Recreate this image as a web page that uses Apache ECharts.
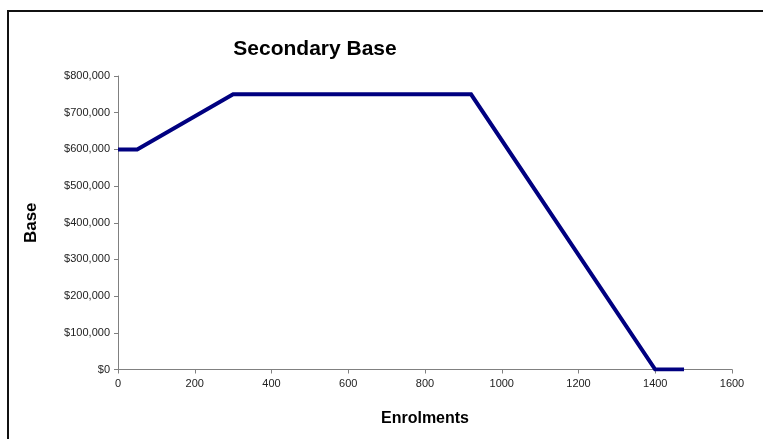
<!DOCTYPE html>
<html>
<head>
<meta charset="utf-8">
<script src="https://cdn.jsdelivr.net/npm/echarts@6/dist/echarts.min.js"></script>
<style>
  html, body { margin: 0; padding: 0; background: #fff; }
  #chart { width: 763px; height: 439px; }
</style>
</head>
<body>
<div id="chart"></div>
<script>
// Enrolment breakpoints and the base amount at each one
const enrolments = [0, 50, 300, 920, 1400, 1475];
const baseValues = [600000, 600000, 750000, 750000, 0, 0];

const xTicks = { min: 0, max: 1600, step: 200 };
const yTicks = { min: 0, max: 800000, step: 100000 };

const points = enrolments.map((x, i) => [x, baseValues[i]]);

const chart = echarts.init(document.getElementById('chart'), null, { renderer: 'canvas' });

const axisFont = 'Arial, "Liberation Sans", sans-serif';

chart.setOption({
  animation: false,
  backgroundColor: '#ffffff',
  title: {
    text: 'Secondary Base',
    left: 310,
    top: 34,
    textAlign: 'center',
    textStyle: { fontFamily: axisFont, fontSize: 21, fontWeight: 'bold', color: '#000' }
  },
  grid: { left: 118, right: 31, top: 76, bottom: 69.5, containLabel: false },
  xAxis: {
    type: 'value',
    min: xTicks.min,
    max: xTicks.max,
    interval: xTicks.step,
    name: 'Enrolments',
    nameLocation: 'middle',
    nameGap: 41,
    nameTextStyle: { fontFamily: axisFont, fontSize: 16, fontWeight: 'bold', color: '#000' },
    axisLine: { show: true, lineStyle: { color: '#808080', width: 1 } },
    axisTick: { show: true, length: 4, lineStyle: { color: '#808080' } },
    axisLabel: { fontFamily: axisFont, fontSize: 11, color: '#222', margin: 9, formatter: v => String(v) },
    splitLine: { show: false }
  },
  yAxis: {
    type: 'value',
    min: yTicks.min,
    max: yTicks.max,
    interval: yTicks.step,
    name: 'Base',
    nameLocation: 'middle',
    nameGap: 78,
    nameRotate: 90,
    nameTextStyle: { fontFamily: axisFont, fontSize: 17, fontWeight: 'bold', color: '#000' },
    axisLine: { show: true, lineStyle: { color: '#808080', width: 1 } },
    axisTick: { show: true, length: 4, lineStyle: { color: '#808080' } },
    axisLabel: {
      fontFamily: axisFont, fontSize: 11, color: '#222', margin: 8,
      formatter: v => '$' + v.toLocaleString('en-US')
    },
    splitLine: { show: false }
  },
  series: [{
    type: 'line',
    data: points,
    showSymbol: false,
    lineStyle: { color: '#000080', width: 4, join: 'miter' },
    itemStyle: { color: '#000080' }
  }],
  graphic: [
    { type: 'line', shape: { x1: 8, y1: 10, x2: 8, y2: 439 }, style: { stroke: '#111', lineWidth: 2 } },
    { type: 'line', shape: { x1: 7, y1: 11, x2: 763, y2: 11 }, style: { stroke: '#111', lineWidth: 2 } }
  ]
});
</script>
</body>
</html>
